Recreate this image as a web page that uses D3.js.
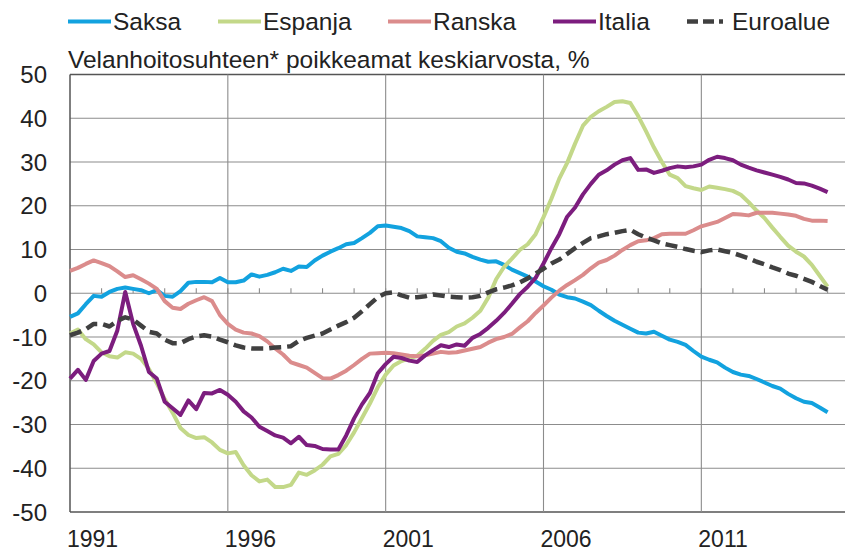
<!DOCTYPE html>
<html>
<head>
<meta charset="utf-8">
<script src="https://cdn.jsdelivr.net/npm/d3@7"></script>
<style>
  html, body { margin: 0; padding: 0; background: #fff; }
  svg { display: block; font-family: "Liberation Sans", Arial, sans-serif; }
</style>
</head>
<body>
<svg id="chart" width="845" height="553"></svg>
<script>
// Quarterly values, 1991Q1 ... 2015Q1 (97 points each)
const saksa = [
  -5.4, -4.6, -2.5, -0.6, -0.8, 0.3, 1.0, 1.3, 1.0, 0.7, 0.0, 0.7, -0.6, -0.8, 0.5, 2.4,
  2.6, 2.6, 2.5, 3.5, 2.5, 2.5, 2.9, 4.3, 3.8, 4.2, 4.8, 5.6, 5.1, 6.1, 6.0, 7.5,
  8.6, 9.5, 10.3, 11.2, 11.5, 12.6, 13.8, 15.3, 15.5, 15.2, 14.9, 14.2, 13.0, 12.8, 12.6, 11.9,
  10.4, 9.5, 9.1, 8.3, 7.7, 7.2, 7.3, 6.5, 5.4, 4.6, 3.8, 2.7, 1.6, 0.8, -0.3, -0.9,
  -1.2, -1.9, -2.7, -4.0, -5.2, -6.3, -7.2, -8.1, -9.0, -9.2, -8.8, -9.7, -10.6, -11.1, -11.8, -13.2,
  -14.5, -15.2, -15.8, -17.0, -18.0, -18.6, -18.9, -19.6, -20.4, -21.2, -21.8, -23.0, -24.0, -24.8, -25.1, -26.1,
  -27.2
];
const espanja = [
  -9.2, -8.3, -10.5, -11.7, -13.5, -14.4, -14.7, -13.5, -13.8, -15.0, -17.3, -20.6, -24.2, -27.3, -30.8, -32.4,
  -33.1, -32.9, -34.1, -35.8, -36.6, -36.3, -39.3, -41.6, -43.0, -42.6, -44.3, -44.3, -43.8, -41.0, -41.5, -40.5,
  -39.2, -37.3, -36.7, -34.7, -31.8, -28.5, -25.2, -21.5, -18.6, -16.5, -15.5, -14.9, -14.3, -12.7, -10.9, -9.5,
  -8.9, -7.6, -6.9, -5.6, -4.0, -1.0, 3.2, 6.0, 7.9, 9.9, 11.2, 13.5, 17.4, 21.6, 26.2, 29.8,
  34.2, 38.3, 40.3, 41.6, 42.6, 43.7, 43.9, 43.5, 40.5, 37.0, 33.3, 30.0, 27.1, 26.3, 24.5, 24.0,
  23.6, 24.4, 24.1, 23.8, 23.4, 22.5, 20.8, 18.9, 17.2, 15.0, 12.9, 10.9, 9.5, 8.4, 6.5, 4.0,
  1.5
];
const ranska = [
  5.1, 5.8, 6.7, 7.5, 6.9, 6.2, 5.0, 3.7, 4.1, 3.2, 2.2, 1.0, -1.8, -3.3, -3.6, -2.4,
  -1.6, -0.9, -1.8, -5.0, -7.0, -8.3, -9.0, -9.2, -9.8, -11.0, -12.6, -14.0, -15.8, -16.4, -17.0, -18.2,
  -19.4, -19.5, -18.7, -17.7, -16.4, -15.0, -13.8, -13.7, -13.6, -13.7, -14.0, -14.3, -14.4, -14.2, -13.8, -13.4,
  -13.6, -13.5, -13.1, -12.7, -12.3, -11.3, -10.5, -10.0, -9.3, -7.8, -6.4, -4.5, -2.8, -1.0, 0.6, 1.9,
  3.0, 4.2, 5.7, 7.0, 7.6, 8.6, 9.9, 11.0, 11.9, 12.1, 12.6, 13.5, 13.6, 13.6, 13.6, 14.4,
  15.3, 15.8, 16.3, 17.2, 18.1, 18.0, 17.8, 18.4, 18.4, 18.4, 18.2, 18.0, 17.7, 17.0, 16.6, 16.6,
  16.5
];
const italia = [
  -19.5, -17.5, -19.8, -15.5, -13.8, -13.2, -8.5, 0.3, -7.0, -12.0, -18.0, -19.5, -24.8, -26.3, -27.8, -24.5,
  -26.5, -22.8, -22.9, -22.1, -23.2, -24.8, -27.0, -28.4, -30.5, -31.5, -32.5, -33.0, -34.3, -32.8, -34.7, -34.9,
  -35.6, -35.7, -35.7, -32.5, -28.6, -25.4, -22.8, -18.3, -16.2, -14.5, -14.8, -15.4, -15.7, -14.2, -13.0, -11.9,
  -12.3, -11.7, -12.0, -10.2, -9.3, -7.9, -6.3, -4.5, -2.4, -0.2, 1.5, 3.5, 6.8, 10.3, 13.5, 17.5,
  19.6, 22.6, 25.0, 27.1, 28.1, 29.4, 30.4, 30.9, 28.2, 28.3, 27.5, 28.0, 28.6, 29.0, 28.8, 29.0,
  29.4, 30.5, 31.2, 30.9, 30.4, 29.4, 28.7, 28.1, 27.6, 27.1, 26.6, 26.0, 25.2, 25.1, 24.6, 23.9,
  23.1
];
const euroalue = [
  -9.6, -9.0, -8.2, -7.0, -7.0, -7.6, -6.3, -5.5, -6.0, -7.4, -8.8, -9.2, -10.6, -11.4, -11.4, -10.5,
  -9.9, -9.6, -9.9, -10.6, -11.2, -11.9, -12.4, -12.6, -12.6, -12.6, -12.4, -12.3, -12.1, -10.9, -10.2, -9.7,
  -9.2, -8.3, -7.4, -6.6, -5.6, -4.1, -2.5, -0.9, 0.0, 0.2, -0.5, -1.0, -0.9, -0.7, -0.3, -0.5,
  -0.8, -0.9, -1.0, -0.9, -0.6, 0.2, 0.9, 1.3, 1.8, 2.5, 3.4, 4.5, 5.6, 6.8, 7.7, 9.0,
  10.3, 11.5, 12.6, 13.0, 13.5, 13.8, 14.2, 14.5, 13.5, 12.7, 12.1, 11.4, 11.0, 10.6, 10.1, 9.7,
  9.4, 9.8, 10.0, 9.6, 9.2, 8.6, 8.0, 7.2, 6.6, 5.9, 5.3, 4.5, 4.0, 3.3, 2.6, 1.7,
  0.8
];

const SERIES_NAMES = ["Saksa", "Espanja", "Ranska", "Italia", "Euroalue"];
const SERIES_COLORS = ["#12a2df", "#c3d889", "#db8c8c", "#7c1d7e", "#404040"];
const YEAR_LABELS = [1991, 1996, 2001, 2006, 2011];
const Y_TICKS = [50, 40, 30, 20, 10, 0, -10, -20, -30, -40, -50];
const SUBTITLE = "Velanhoitosuhteen* poikkeamat keskiarvosta, %";

const FIRST_YEAR = 1991;
const LAST_YEAR = 2015;

const PLOT_LEFT = 70;
const PLOT_RIGHT = 845;
const PLOT_TOP = 74.5;
const PLOT_BOTTOM = 512;
const LAST_X = 827.6;
const LINE_WIDTH = 4;
const GRID_COLOR = "#8c8c8c";

const svg = d3.select("#chart");
const x = d3.scaleLinear().domain([FIRST_YEAR, LAST_YEAR]).range([PLOT_LEFT, LAST_X]);
const y = d3.scaleLinear().domain([-50, 50]).range([PLOT_BOTTOM, PLOT_TOP]);

drawGrid();
drawSeries();
drawLegend();

/**
 * Gridlines, zero axis with year ticks, and axis labels
 */
function drawGrid() {
    const g = svg.append("g");

    g.selectAll(".hgrid")
        .data(Y_TICKS)
        .enter()
        .append("line")
        .attr("x1", PLOT_LEFT).attr("x2", PLOT_RIGHT)
        .attr("y1", d => y(d)).attr("y2", d => y(d))
        .attr("stroke", d => d === 50 || d === -50 ? "#555" : GRID_COLOR)
        .attr("stroke-width", d => d === 50 || d === -50 ? 1.5 : 1.1);

    g.selectAll(".vgrid")
        .data(YEAR_LABELS)
        .enter()
        .append("line")
        .attr("x1", d => x(d)).attr("x2", d => x(d))
        .attr("y1", PLOT_TOP).attr("y2", PLOT_BOTTOM)
        .attr("stroke", (d, i) => i === 0 ? "#555" : GRID_COLOR)
        .attr("stroke-width", (d, i) => i === 0 ? 1.5 : 1.1);

    // small yearly ticks sitting on the zero line
    g.selectAll(".tick")
        .data(d3.range(FIRST_YEAR + 1, LAST_YEAR + 1))
        .enter()
        .append("line")
        .attr("x1", d => x(d)).attr("x2", d => x(d))
        .attr("y1", y(0) - 5).attr("y2", y(0))
        .attr("stroke", GRID_COLOR)
        .attr("stroke-width", 1.1);

    g.selectAll(".ylabel")
        .data(Y_TICKS)
        .enter()
        .append("text")
        .attr("x", 47)
        .attr("y", d => y(d) + 8.5)
        .attr("text-anchor", "end")
        .attr("font-size", 24)
        .attr("fill", "#222")
        .text(d => d);

    g.selectAll(".xlabel")
        .data(YEAR_LABELS)
        .enter()
        .append("text")
        .attr("x", d => x(d) - 3)
        .attr("y", 547)
        .attr("font-size", 23)
        .attr("fill", "#222")
        .text(d => d);

    svg.append("text")
        .attr("x", 68)
        .attr("y", 68)
        .attr("font-size", 24.5)
        .attr("fill", "#222")
        .text(SUBTITLE);
}

/**
 * One line per country, drawn in the original series order
 */
function drawSeries() {
    const data = [saksa, espanja, ranska, italia, euroalue];
    const line = d3.line()
        .x((d, i) => x(FIRST_YEAR + i / 4))
        .y(d => y(d));

    svg.append("g")
        .selectAll("path")
        .data(data)
        .enter()
        .append("path")
        .attr("d", line)
        .attr("fill", "none")
        .attr("stroke", (d, i) => SERIES_COLORS[i])
        .attr("stroke-width", (d, i) => i === 4 ? 4.5 : LINE_WIDTH)
        .attr("stroke-linejoin", "round")
        .attr("stroke-dasharray", (d, i) => i === 4 ? "12,6" : null);
}

/**
 * Legend row above the subtitle
 */
function drawLegend() {
    const starts = [68, 218, 388, 553, 687];
    const item = svg.append("g")
        .selectAll("g")
        .data(SERIES_NAMES)
        .enter()
        .append("g")
        .attr("transform", (d, i) => `translate(${starts[i]},0)`);

    item.append("line")
        .attr("x1", 0).attr("x2", 43)
        .attr("y1", 21.5).attr("y2", 21.5)
        .attr("stroke", (d, i) => SERIES_COLORS[i])
        .attr("stroke-width", (d, i) => i === 4 ? 4.5 : LINE_WIDTH)
        .attr("stroke-dasharray", (d, i) => i === 4 ? "11,5,11,5,4,30" : null);

    item.append("text")
        .attr("x", 45)
        .attr("y", 30)
        .attr("font-size", 24.5)
        .attr("fill", "#222")
        .text(d => d);
}
</script>
</body>
</html>
